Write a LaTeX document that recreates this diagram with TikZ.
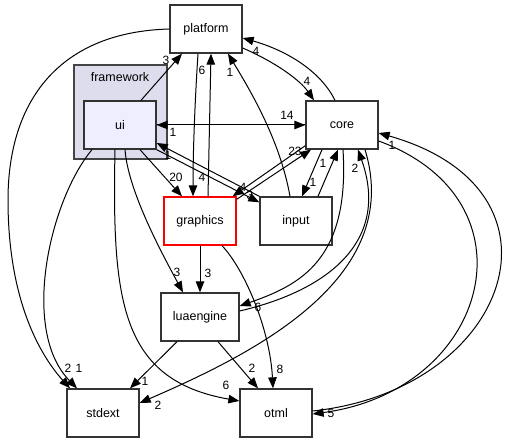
\documentclass[tikz,border=0pt]{standalone}
\usepackage{fontspec}
\setmainfont{Liberation Sans}
\usetikzlibrary{arrows.meta}
\definecolor{clusterfill}{HTML}{DDDDEE}
\definecolor{clusterdraw}{HTML}{444444}
\definecolor{uifill}{HTML}{EEEEFF}
\definecolor{boxdraw}{HTML}{333333}
\begin{document}
\begin{tikzpicture}[x=1pt,y=-1pt,
  box/.style={draw=boxdraw, line width=1.3pt, fill=white, minimum width=72pt, minimum height=48pt, inner sep=0pt, font=\fontsize{12.5}{14}\selectfont},
  cluster/.style={draw=clusterdraw, line width=1.3pt, fill=clusterfill, minimum width=93pt, minimum height=94pt, inner sep=0pt},
  dep/.style={draw=black, line width=1pt, -{Triangle[length=11pt,width=8.5pt]}},
  lbl/.style={font=\fontsize{12}{12}\selectfont, inner sep=0pt}]
\useasboundingbox (0,0) rectangle (507,443);
\fill[white] (0,0) rectangle (507,443);
% cluster
\node[cluster] (framework) at (120.5,112) {};
\node[font=\fontsize{12.5}{14}\selectfont, inner sep=0pt] (fwlabel) at (120,77) {framework};
% nodes
\node[box] (platform) at (206,29) {platform};
\node[box, fill=uifill] (ui) at (120,125) {ui};
\node[box] (core) at (342,125) {core};
\node[box, draw=red] (graphics) at (200,221) {graphics};
\node[box] (input) at (296,221) {input};
\node[box, minimum width=78pt] (luaengine) at (200,317) {luaengine};
\node[box] (stdext) at (103,413) {stdext};
\node[box] (otml) at (276,413) {otml};
% edges
\draw[dep] ([xshift=21pt]ui.north) -- ([xshift=-24pt]platform.south);
\draw[dep] ([xshift=8pt]graphics.north) -- ([xshift=5pt]platform.south);
\draw[dep] ([xshift=-8pt]platform.south) .. controls (195,100) and (193,150) .. ([xshift=-7pt]graphics.north);
\draw[dep] ([xshift=-6pt]input.north) .. controls (280,140) and (250,90) .. ([xshift=22pt]platform.south);
\draw[dep] ([yshift=-19pt]platform.east) .. controls (275,62) and (300,80) .. ([xshift=-28pt]core.north);
\draw[dep] ([xshift=-7pt]core.north) .. controls (320,70) and (285,50) .. ([yshift=-9pt]platform.east);
\draw[dep] (platform.west) .. controls (60,32) and (8,100) .. (8,200) .. controls (8,300) and (40,355) .. ([xshift=-33pt]stdext.north);
\draw[dep] ([xshift=-28pt]ui.south) .. controls (50,200) and (20,330) .. ([xshift=-26pt]stdext.north);
\draw[dep] (ui.east) -- (core.west);
\draw[dep] (core.west) -- (ui.east);
\draw[dep] ([xshift=20pt]ui.south) -- ([xshift=-18pt]graphics.north);
\draw[dep] (ui.south east) -- ([yshift=-6pt]input.north west);
\draw[dep] (input.north west) -- ([yshift=-18pt]ui.east);
\draw[dep] ([yshift=-3pt]graphics.north east) -- ([xshift=-31pt]core.south);
\draw[dep] ([yshift=4pt]core.south west) -- ([xshift=-4pt]graphics.north east);
\draw[dep] ([xshift=-20pt]core.south) -- ([xshift=6pt]input.north);
\draw[dep] ([xshift=22pt]input.north) -- ([xshift=-4pt]core.south);
\draw[dep] ([xshift=1pt]core.south) .. controls (350,260) and (300,285) .. ([yshift=11pt]luaengine.east);
\draw[dep] ([yshift=6pt]luaengine.east) .. controls (330,290) and (390,240) .. ([xshift=16pt]core.south);
\draw[dep] ([xshift=23pt]core.south) .. controls (405,280) and (250,355) .. ([yshift=10pt]stdext.east);
\draw[dep] ([yshift=2pt]otml.east) .. controls (510,390) and (580,190) .. ([yshift=-8pt]core.east);
\draw[dep] ([yshift=-16pt]core.east) .. controls (540,200) and (490,390) .. ([yshift=-1pt]otml.east);
\draw[dep] ([xshift=5pt]ui.south) .. controls (128,190) and (160,250) .. ([xshift=-17pt]luaengine.north);
\draw[dep] (graphics.south) -- (luaengine.north);
\draw[dep] ([xshift=-5pt]ui.south) .. controls (112,300) and (120,380) .. ([yshift=12pt]otml.west);
\draw[dep] ([xshift=22pt]graphics.south) .. controls (245,270) and (270,330) .. ([xshift=-3pt]otml.north);
\draw[dep] ([xshift=18pt]luaengine.south) -- ([xshift=-18pt]otml.north);
\draw[dep] ([xshift=-23pt]luaengine.south) -- ([xshift=27pt]stdext.north);
% labels
\node[lbl] (l1) at (166,60) {3};
\node[lbl] (l2) at (202,70) {6};
\node[lbl] (l3) at (202,177) {4};
\node[lbl] (l4) at (230,72) {1};
\node[lbl] (l5) at (256,51) {4};
\node[lbl] (l6) at (307,81) {4};
\node[lbl] (l7) at (287,115) {14};
\node[lbl] (l8) at (173,132) {1};
\node[lbl] (l9) at (176,177) {20};
\node[lbl] (l10) at (295,151) {23};
\node[lbl] (l11) at (243,187) {4};
\node[lbl] (l12) at (250,195) {3};
\node[lbl] (l13) at (168,155) {1};
\node[lbl] (l14) at (313,182) {1};
\node[lbl] (l15) at (323,163) {1};
\node[lbl] (l16) at (355,168) {2};
\node[lbl] (l17) at (258,307) {6};
\node[lbl] (l18) at (158,405) {2};
\node[lbl] (l19) at (392,145) {1};
\node[lbl] (l20) at (331,413) {5};
\node[lbl] (l21) at (177,272) {3};
\node[lbl] (l22) at (208,273) {3};
\node[lbl] (l23) at (226,385) {6};
\node[lbl] (l24) at (280,369) {8};
\node[lbl] (l25) at (252,368) {2};
\node[lbl] (l26) at (145,381) {1};
\node[lbl] (l27) at (68,368) {2};
\node[lbl] (l28) at (79,368) {1};
\end{tikzpicture}
\end{document}
